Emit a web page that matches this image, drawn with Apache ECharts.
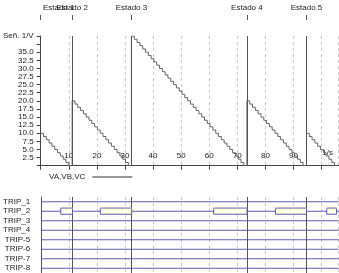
<!DOCTYPE html>
<html><head><meta charset="utf-8">
<script src="https://cdn.jsdelivr.net/npm/echarts@6/dist/echarts.min.js"></script>
<style>html,body{margin:0;padding:0;background:#fff}#c{width:339px;height:273px}</style>
</head><body><div id="c"></div>
<script>
// ---- data ----
const stateTimes = [0, 11.2, 32.3, 73.4, 94.6];
const stateLabels = ['Estado 1', 'Estado 2', 'Estado 3', 'Estado 4', 'Estado 5'];
const sampleStep = 1; // s between samples
const stage1 = [10, 9, 8, 7, 6, 5, 4, 3, 2, 1, 0];
const stage2 = [20, 19, 18, 17, 16, 15, 14, 13, 12, 11, 10, 9, 8, 7, 6, 5, 4, 3, 2, 1, 0];
const stage3 = [40, 39, 38, 37, 36, 35, 34, 33, 32, 31, 30, 29, 28, 27, 26, 25, 24, 23, 22, 21, 20,
                19, 18, 17, 16, 15, 14, 13, 12, 11, 10, 9, 8, 7, 6, 5, 4, 3, 2, 1, 0];
const stage4 = [20, 19, 18, 17, 16, 15, 14, 13, 12, 11, 10, 9, 8, 7, 6, 5, 4, 3, 2, 1, 0];
const stage5 = [10, 9, 8, 7, 6, 5, 4, 3, 2, 1, 0];
const stages = [stage1, stage2, stage3, stage4, stage5];
const tripNames = ['TRIP_1', 'TRIP_2', 'TRIP_3', 'TRIP_4', 'TRIP-5', 'TRIP-6', 'TRIP-7', 'TRIP-8'];
const trip2Start = [7.0, 21.1, 61.5, 83.5, 101.8];
const trip2End = [11.2, 32.3, 73.4, 94.6, 105.3];
const xMin = 0, xMax = 106;

// ---- build ----
const stairData = [];
stages.forEach((vals, k) => {
  vals.forEach((v, i) => stairData.push([stateTimes[k] + i * sampleStep, v]));
});
const FONT = 'Liberation Sans, Arial, sans-serif';
const TXT = '#222';
const dashed = {show: true, lineStyle: {type: [3, 3], color: '#c8c8c8', width: 1}};
const stateMark = {
  symbol: ['none', 'none'], silent: true, animation: false,
  label: {show: false},
  lineStyle: {type: 'solid', color: '#555', width: 1},
  data: stateTimes.slice(1).map(t => ({xAxis: t}))
};

const rowSeries = tripNames.map((n, i) => ({
  type: 'line', xAxisIndex: 3, yAxisIndex: 1, silent: true, showSymbol: false,
  lineStyle: {color: '#5c5cb4', width: 1},
  data: [[xMin, n], [xMax, n]],
  markLine: i === 0 ? stateMark : undefined
}));

function stateAxis(vals, padLeft) {
  return {gridIndex: 0, type: 'value', min: xMin, max: xMax, position: 'top', offset: 16,
    axisLine: {show: true, lineStyle: {color: 'rgba(0,0,0,0)'}},
    axisTick: {show: true, length: 5, customValues: vals, lineStyle: {color: '#555'}},
    axisLabel: {show: true, margin: 8, fontSize: 8, color: TXT, fontFamily: FONT,
      showMinLabel: true, showMaxLabel: true, hideOverlap: false,
      customValues: vals,
      formatter: v => '{f|' + stateLabels[stateTimes.indexOf(v)] + '}',
      rich: {f: {fontSize: 8, color: TXT, fontFamily: FONT, padding: [0, 0, 0, padLeft]}}},
    splitLine: {show: false}};
}

const option = {
  animation: false,
  textStyle: {fontFamily: FONT},
  grid: [
    {left: 38.4, right: 0.5, top: 36, height: 129.7},
    {left: 38.4, right: 0.5, top: 197, height: 76}
  ],
  legend: {
    left: 44, top: 168, align: 'right', itemWidth: 40, itemHeight: 1,
    textStyle: {fontSize: 8, color: TXT, fontFamily: FONT, padding: [0, 2, 0, 0]},
    data: [{name: 'VA,VB,VC', icon: 'rect', itemStyle: {color: '#333'}}]
  },
  xAxis: [
    {gridIndex: 0, type: 'value', min: xMin, max: xMax, interval: 10,
     axisLine: {lineStyle: {color: '#444'}},
     axisTick: {show: true, length: 4, lineStyle: {color: '#444'}},
     axisLabel: {inside: true, margin: 6, fontSize: 8, color: TXT, fontFamily: FONT,
       formatter: v => v === 0 ? '' : (v === 100 ? '{s|1/s}' : String(v)),
       rich: {s: {fontSize: 8, color: TXT, fontFamily: FONT, padding: [0, 0, 3, 12]}}},
     splitLine: dashed},
    stateAxis(stateTimes.slice(0, 1), 36),
    stateAxis(stateTimes.slice(1), 0),
    {gridIndex: 1, type: 'value', min: xMin, max: xMax, interval: 10,
     axisLine: {show: false}, axisTick: {show: false}, axisLabel: {show: false},
     splitLine: dashed}
  ],
  yAxis: [
    {gridIndex: 0, type: 'value', min: 0, max: 40, interval: 2.5,
     axisLine: {show: true, lineStyle: {color: '#444'}},
     axisTick: {show: true, length: 4, lineStyle: {color: '#444'}},
     axisLabel: {margin: 7, fontSize: 8, color: TXT, fontFamily: FONT,
       formatter: v => v === 40 ? 'Señ. 1/V' : ((v === 37.5 || v === 0) ? '' : v.toFixed(1))},
     splitLine: {show: false}},
    {gridIndex: 1, type: 'category', inverse: true, data: tripNames,
     axisLine: {show: true, lineStyle: {color: '#555'}},
     axisTick: {show: false},
     axisLabel: {interval: 0, margin: 11, fontSize: 8, color: TXT, fontFamily: FONT},
     splitLine: {show: false}}
  ],
  series: [
    {name: 'VA,VB,VC', type: 'line', xAxisIndex: 0, yAxisIndex: 0, step: 'end',
     showSymbol: false, silent: true,
     lineStyle: {color: '#666', width: 1}, itemStyle: {color: '#333'},
     data: stairData, markLine: stateMark},
    ...rowSeries,
    {type: 'custom', xAxisIndex: 3, yAxisIndex: 1, silent: true, z: 5,
     data: trip2Start.map((s, i) => [s, trip2End[i], 1]),
     encode: {x: [0, 1], y: 2},
     renderItem: (params, api) => {
       const p0 = api.coord([api.value(0), api.value(2)]);
       const p1 = api.coord([api.value(1), api.value(2)]);
       const h = 6;
       return {type: 'group', children: [
         {type: 'rect', shape: {x: p0[0], y: p0[1] - h / 2, width: p1[0] - p0[0], height: h},
          style: {fill: '#fffde2', stroke: '#5c5cb4', lineWidth: 1}},
         {type: 'line', shape: {x1: p0[0], y1: p0[1] - h / 2, x2: p1[0], y2: p0[1] - h / 2},
          style: {stroke: '#a8a8c4', lineWidth: 1.6}}
       ]};
     }}
  ]
};
const chart = echarts.init(document.getElementById('c'), null, {renderer: 'canvas'});
chart.setOption(option);
</script></body></html>
